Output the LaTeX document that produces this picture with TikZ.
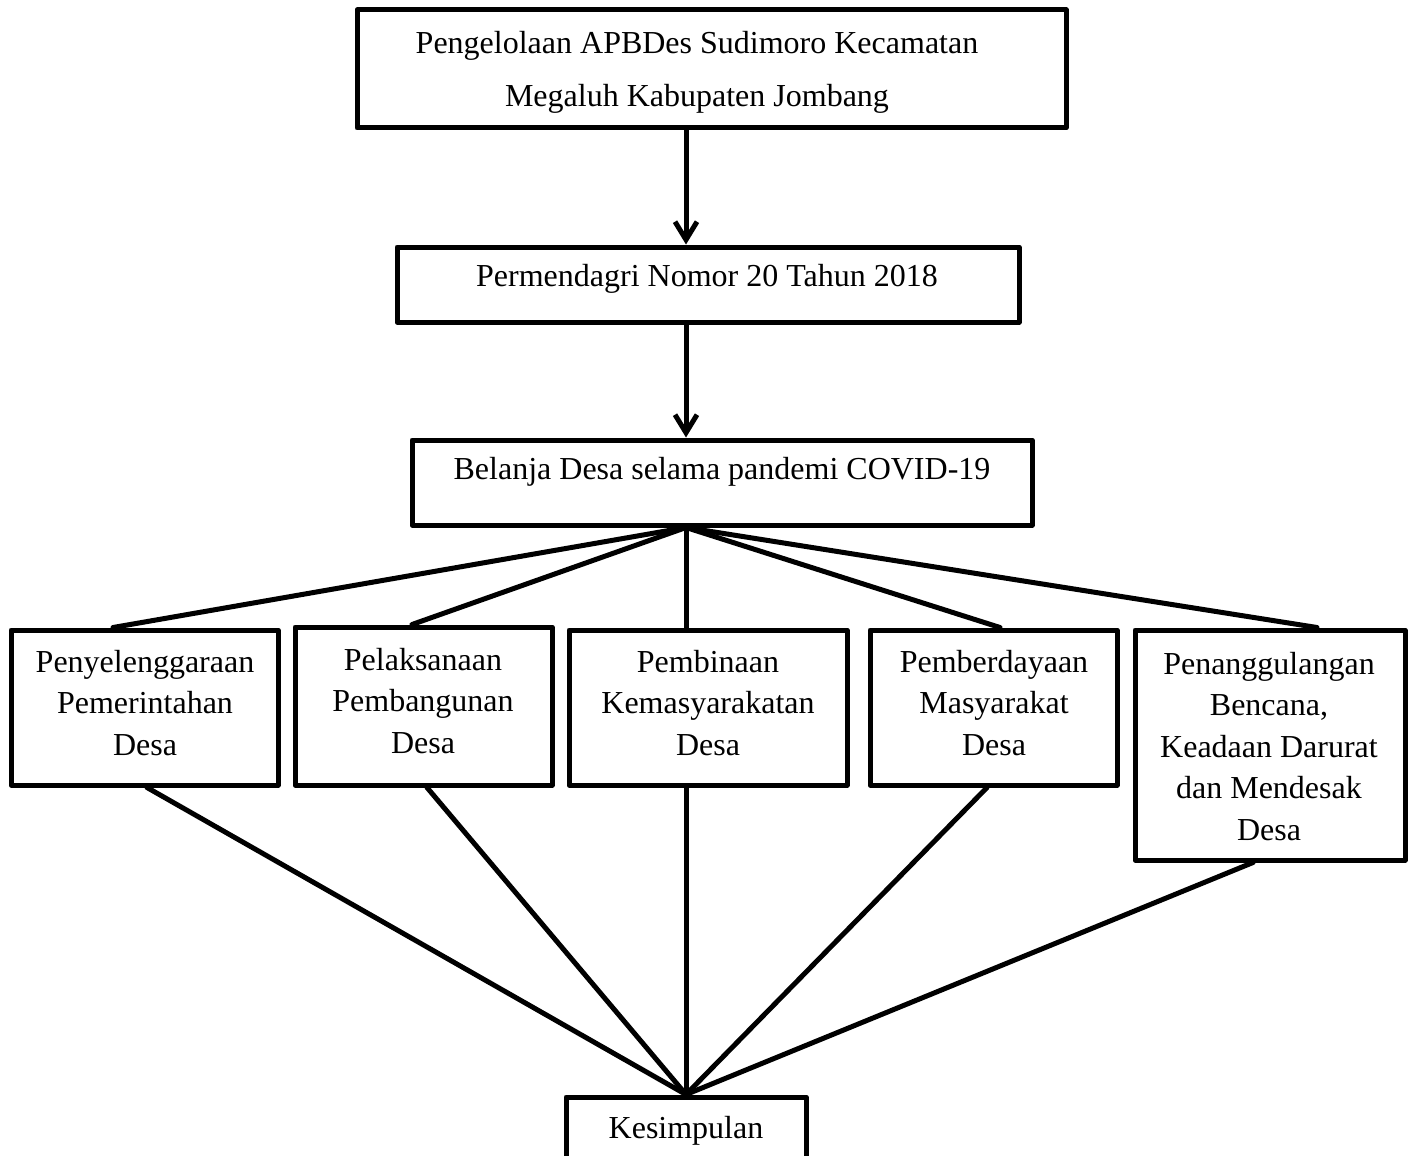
\documentclass[tikz,border=0pt]{standalone}
\usepackage{fontspec}
\setmainfont{Liberation Serif}
\usetikzlibrary{arrows.meta,fit}
\begin{document}
\begin{tikzpicture}[x=0.5pt,y=-0.5pt,
  box/.style={draw=black, line width=2.5pt, line join=round, rectangle, inner sep=0pt},
  txt/.style={font=\fontsize{16pt}{20.75pt}\selectfont, align=center, inner sep=0pt, anchor=base},
  link/.style={line width=2.5pt, line cap=round},
  arr/.style={line width=2.5pt, -{Straight Barb[length=9pt,width=11pt]}}
]
\useasboundingbox (0,0) rectangle (1413,1156);

% boxes
\node[box, fit={(357,10)(1066,128)}] (top) {};
\node[box, fit={(397,247)(1019,322)}] (perm) {};
\node[box, fit={(412,440)(1032,525)}] (bel) {};
\node[box, fit={(11,630)(278,785)}] (b1) {};
\node[box, fit={(295,627)(552,785)}] (b2) {};
\node[box, fit={(569,630)(847,785)}] (b3) {};
\node[box, fit={(870,630)(1117,785)}] (b4) {};
\node[box, fit={(1135,630)(1405,860)}] (b5) {};
\node[box, fit={(566,1097)(806,1185)}] (kes) {};

% texts (anchor base = baseline of the last line)
\node[txt, font=\fontsize{16pt}{27pt}\selectfont] (ttop) at (697,107) {Pengelolaan APBDes Sudimoro Kecamatan\\Megaluh Kabupaten Jombang};
\node[txt] (tperm) at (707,286) {Permendagri Nomor 20 Tahun 2018};
\node[txt] (tbel) at (722,479) {Belanja Desa selama pandemi COVID-19};
\node[txt] (tb1) at (145,755) {Penyelenggaraan\\Pemerintahan\\Desa};
\node[txt] (tb2) at (423,753) {Pelaksanaan\\Pembangunan\\Desa};
\node[txt] (tb3) at (708,755) {Pembinaan\\Kemasyarakatan\\Desa};
\node[txt] (tb4) at (994,755) {Pemberdayaan\\Masyarakat\\Desa};
\node[txt] (tb5) at (1269,840) {Penanggulangan\\Bencana,\\Keadaan Darurat\\dan Mendesak\\Desa};
\node[txt] (tkes) at (686,1138) {Kesimpulan};

% arrows
\draw[arr] (top.south -| 686,0) -- (perm.north -| 686,0);
\draw[arr] (perm.south -| 686,0) -- (bel.north -| 686,0);

% fan out
\coordinate (fan) at (bel.south -| 686,0);
\draw[link] (fan) -- (b1.north -| 113,0);
\draw[link] (fan) -- (b2.north -| 412,0);
\draw[link] (fan) -- (b3.north -| 686,0);
\draw[link] (fan) -- (b4.north -| 1000,0);
\draw[link] (fan) -- (b5.north -| 1317,0);

% fan in
\coordinate (kin) at (kes.north -| 686,0);
\draw[link] (b1.south -| 147,0) -- (kin);
\draw[link] (b2.south -| 427,0) -- (kin);
\draw[link] (b3.south -| 686,0) -- (kin);
\draw[link] (b4.south -| 987,0) -- (kin);
\draw[link] (b5.south -| 1253,0) -- (kin);
\end{tikzpicture}
\end{document}
